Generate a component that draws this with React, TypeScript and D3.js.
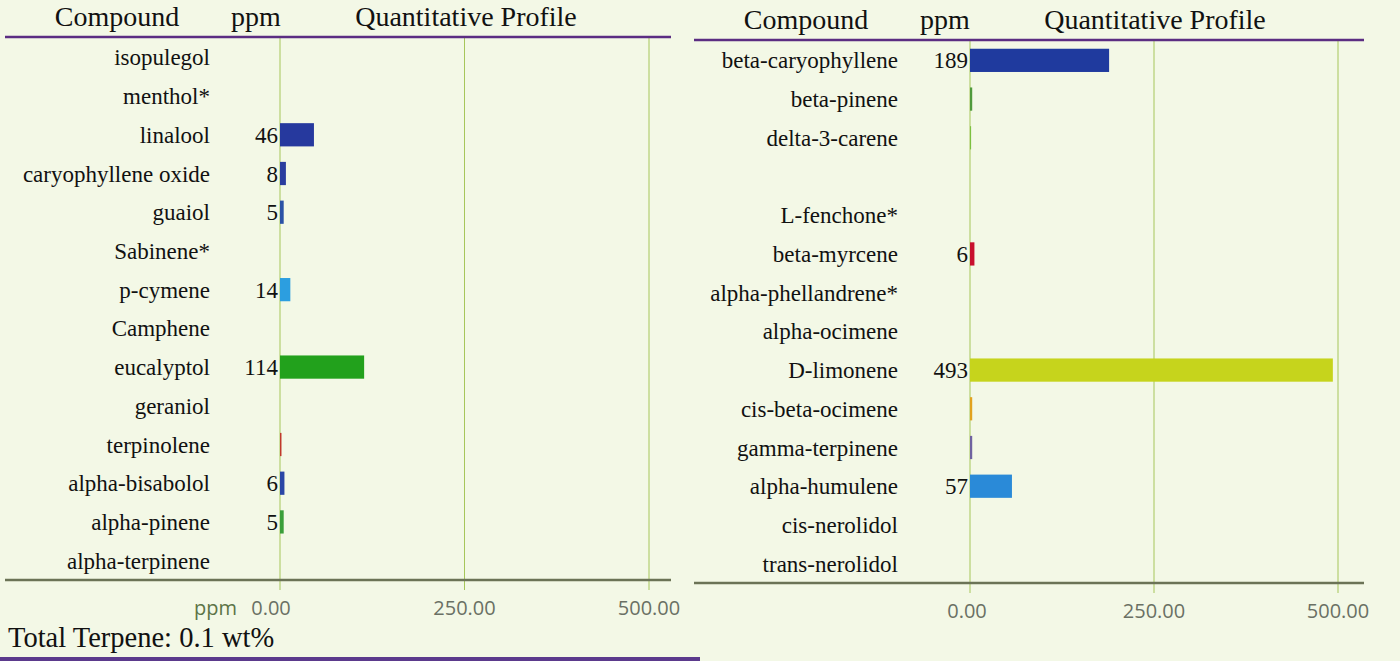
import React from 'react';
import * as d3 from 'd3';

// left table
const leftCompounds = [
  'isopulegol', 'menthol*', 'linalool', 'caryophyllene oxide', 'guaiol', 'Sabinene*', 'p-cymene',
  'Camphene', 'eucalyptol', 'geraniol', 'terpinolene', 'alpha-bisabolol', 'alpha-pinene', 'alpha-terpinene',
];
const leftPpm = [0, 0, 46, 8, 5, 0, 14, 0, 114, 0, 2, 6, 5, 0];
const leftColors = [
  '#2a3a9c', '#2a3a9c', '#26399e', '#2a3d9f', '#2b52a6', '#2a3a9c', '#2c9ee0',
  '#2a3a9c', '#22a11c', '#2a3a9c', '#c0392b', '#2a46a6', '#3a9f3a', '#2a3a9c',
];

// right table
const rightCompounds = [
  'beta-caryophyllene', 'beta-pinene', 'delta-3-carene', '', 'L-fenchone*', 'beta-myrcene',
  'alpha-phellandrene*', 'alpha-ocimene', 'D-limonene', 'cis-beta-ocimene', 'gamma-terpinene',
  'alpha-humulene', 'cis-nerolidol', 'trans-nerolidol',
];
const rightPpm = [189, 3, 1.5, 0, 0, 6, 0, 0, 493, 3, 3, 57, 0, 0];
const rightColors = [
  '#1f3a9e', '#4f9a3c', '#7cc040', '#888888', '#888888', '#c8102e',
  '#888888', '#888888', '#c6d41c', '#e2a21e', '#6f62a0',
  '#2a8ad8', '#888888', '#888888',
];

const axisTicks = [0, 250, 500];
const tickFormat = d3.format('.2f');
const totalLabel = 'Total Terpene: 0.1 wt%';

const serif = '"Liberation Serif", "DejaVu Serif", serif';
const sans = '"Open Sans", "Noto Sans", sans-serif';

type PanelProps = {
  names: string[];
  values: number[];
  colors: string[];
  x0: number;
  x1: number;
  top: number;
  bottom: number;
  lineLeft: number;
  lineRight: number;
  headerY: number;
  labelRight: number;
  headX: [number, number, number];
  ppmAxisLabel: boolean;
};

function Panel({
  names, values, colors, x0, x1, top, bottom, lineLeft, lineRight, headerY, labelRight, headX, ppmAxisLabel,
}: PanelProps) {
  const x = d3.scaleLinear().domain([0, 500]).range([x0, x1]);
  const y = d3.scaleBand<number>()
    .domain(d3.range(names.length))
    .range([top, bottom])
    .paddingInner(0.4)
    .paddingOuter(0.2);

  return (
    <g>
      {/* header */}
      <text x={headX[0]} y={headerY} textAnchor="middle" fontFamily={serif} fontSize={28} fill="#111">Compound</text>
      <text x={headX[1]} y={headerY} textAnchor="middle" fontFamily={serif} fontSize={28} fill="#111">ppm</text>
      <text x={headX[2]} y={headerY} textAnchor="middle" fontFamily={serif} fontSize={28} fill="#111">Quantitative Profile</text>

      {/* grid */}
      {axisTicks.map((t) => (
        <line key={t} x1={x(t)} x2={x(t)} y1={top} y2={bottom + 10} stroke="#a6c65a" strokeWidth={1} />
      ))}

      <line x1={lineLeft} x2={lineRight} y1={top - 1} y2={top - 1} stroke="#5b2d82" strokeWidth={2.5} />
      <line x1={lineLeft} x2={lineRight} y1={bottom} y2={bottom} stroke="#6b7356" strokeWidth={2.5} />

      {/* rows */}
      {names.map((n, i) => {
        const cy = (y(i) ?? 0) + y.bandwidth() / 2;
        const v = values[i];
        return (
          <g key={i}>
            <text x={labelRight} y={cy} dy="0.35em" textAnchor="end" fontFamily={serif} fontSize={23} fill="#111">{n}</text>
            {v > 0 && (
              <rect
                x={x(0)}
                y={y(i)}
                width={Math.max(1, x(v) - x(0))}
                height={y.bandwidth()}
                fill={colors[i]}
              />
            )}
            {v >= 5 && (
              <text x={x(0) - 2} y={cy} dy="0.35em" textAnchor="end" fontFamily={serif} fontSize={23} fill="#111">
                {d3.format('d')(v)}
              </text>
            )}
          </g>
        );
      })}

      {/* axis labels */}
      {axisTicks.map((t) => (
        <text
          key={t}
          x={x(t) - (t === 0 ? (ppmAxisLabel ? 9 : 3) : 0)}
          y={bottom + 35}
          textAnchor="middle"
          fontFamily={sans}
          fontSize={20}
          fill="#6a7064"
        >
          {tickFormat(t)}
        </text>
      ))}
      {ppmAxisLabel && (
        <text x={x(0) - 43} y={bottom + 35} textAnchor="end" fontFamily={sans} fontSize={20} fill="#5c7446">ppm</text>
      )}
    </g>
  );
}

export default function App() {
  return (
    <svg
      width={1400}
      height={661}
      style={{ position: 'absolute', left: 0, top: 0, display: 'block' }}
    >
      <rect width={1400} height={661} fill="#f3f8e6" />
      <Panel
        names={leftCompounds}
        values={leftPpm}
        colors={leftColors}
        x0={280}
        x1={649}
        top={38}
        bottom={580}
        lineLeft={5}
        lineRight={671}
        headerY={26}
        labelRight={210}
        headX={[117, 256, 466]}
        ppmAxisLabel
      />
      <Panel
        names={rightCompounds}
        values={rightPpm}
        colors={rightColors}
        x0={970}
        x1={1338}
        top={41}
        bottom={583}
        lineLeft={694}
        lineRight={1364}
        headerY={29}
        labelRight={898}
        headX={[806, 945, 1155]}
        ppmAxisLabel={false}
      />
      <text x={8} y={647} fontFamily={serif} fontSize={28.5} fill="#111">{totalLabel}</text>
      <line x1={0} x2={700} y1={659} y2={659} stroke="#5b3a8c" strokeWidth={4} />
    </svg>
  );
}
